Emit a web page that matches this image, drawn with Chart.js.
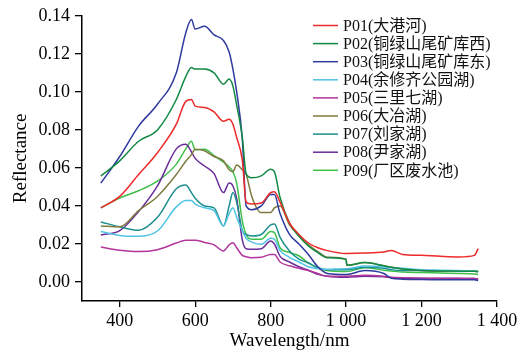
<!DOCTYPE html>
<html>
<head>
<meta charset="utf-8">
<script src="https://cdn.jsdelivr.net/npm/chart.js@4.4.0/dist/chart.umd.min.js"></script>
<style>
  html, body { margin: 0; padding: 0; background: #fff; }
  #wrap { width: 528px; height: 354px; }
</style>
</head>
<body>
<div id="wrap"><canvas id="specChart" width="528" height="354"></canvas></div>
<script>
// Wavelengths (nm) shared by every spectrum
const wavelengths = [350,400,450,500,550,575,590,600,625,650,675,690,700,710,725,735,750,775,800,810,825,850,875,900,925,950,1000,1002,1050,1100,1120,1150,1200,1250,1300,1340,1350];

// Reflectance of each sampling point
const p01 = [0.039,0.045,0.0565,0.068,0.083,0.095,0.096,0.0925,0.0918,0.0895,0.0845,0.0856,0.083,0.076,0.064,0.042,0.041,0.0415,0.047,0.0475,0.042,0.031,0.025,0.0205,0.018,0.0165,0.015,0.015,0.0152,0.0158,0.0165,0.0145,0.014,0.0135,0.0132,0.014,0.0175];
const p02 = [0.0558,0.0637,0.074,0.080,0.096,0.108,0.1128,0.112,0.112,0.110,0.104,0.1067,0.103,0.093,0.076,0.057,0.0548,0.0558,0.0593,0.058,0.0444,0.031,0.024,0.019,0.0155,0.0128,0.012,0.0088,0.0102,0.0085,0.0078,0.0068,0.006,0.0058,0.0057,0.0056,0.0055];
const p03 = [0.052,0.066,0.082,0.0935,0.110,0.131,0.138,0.133,0.1345,0.130,0.127,0.121,0.112,0.100,0.075,0.040,0.038,0.040,0.046,0.046,0.036,0.025,0.020,0.0145,0.008,0.0045,0.004,0.004,0.006,0.0045,0.002,0.0015,0.0013,0.0012,0.0012,0.0012,0.0008];
const p04 = [0.0265,0.0245,0.024,0.0268,0.0395,0.0428,0.0428,0.041,0.039,0.0375,0.0295,0.036,0.039,0.034,0.027,0.023,0.021,0.0198,0.023,0.0225,0.0165,0.013,0.0105,0.008,0.007,0.0067,0.007,0.007,0.0084,0.008,0.0075,0.0072,0.0065,0.0062,0.006,0.0058,0.0055];
const p05 = [0.0184,0.0167,0.016,0.017,0.0205,0.022,0.022,0.022,0.0208,0.0195,0.0163,0.0195,0.0207,0.018,0.014,0.0133,0.0128,0.013,0.0145,0.0145,0.0105,0.0085,0.0072,0.006,0.0045,0.003,0.003,0.003,0.0035,0.003,0.0025,0.0022,0.002,0.002,0.0019,0.0018,0.0017];
const p06 = [0.0295,0.029,0.0375,0.045,0.0565,0.0635,0.067,0.0698,0.069,0.066,0.0637,0.059,0.058,0.0615,0.059,0.0567,0.045,0.0365,0.0365,0.039,0.040,0.030,0.0245,0.0195,0.016,0.013,0.012,0.0088,0.0102,0.0085,0.0078,0.0068,0.006,0.0058,0.0057,0.0056,0.0055];
const p07 = [0.0316,0.029,0.0272,0.034,0.049,0.051,0.047,0.044,0.040,0.039,0.0295,0.040,0.047,0.042,0.027,0.025,0.0242,0.025,0.030,0.0305,0.0235,0.0163,0.012,0.010,0.0075,0.0065,0.0065,0.0065,0.0078,0.0072,0.0065,0.006,0.006,0.0058,0.0057,0.0056,0.0055];
const p08 = [0.0247,0.027,0.037,0.0505,0.070,0.0725,0.0685,0.065,0.061,0.057,0.047,0.052,0.0505,0.044,0.022,0.0175,0.0172,0.0175,0.0215,0.020,0.0135,0.0105,0.008,0.0062,0.004,0.003,0.0025,0.0025,0.003,0.0027,0.0022,0.002,0.0019,0.0018,0.0018,0.0018,0.0015];
const p09 = [0.039,0.0442,0.048,0.053,0.062,0.070,0.074,0.0695,0.0698,0.0665,0.063,0.0605,0.058,0.052,0.032,0.025,0.0225,0.0225,0.0265,0.026,0.018,0.0155,0.0138,0.010,0.0075,0.006,0.0055,0.0055,0.0075,0.0062,0.0058,0.0052,0.005,0.0047,0.0045,0.0042,0.004];

const seriesNames = ['P01(大港河)','P02(铜绿山尾矿库西)','P03(铜绿山尾矿库东)','P04(余修齐公园湖)','P05(三里七湖)','P06(大冶湖)','P07(刘家湖)','P08(尹家湖)','P09(厂区废水池)'];
const seriesValues = [p01, p02, p03, p04, p05, p06, p07, p08, p09];
const seriesColors = ['#ee2a2a','#138a44','#2e3a9e','#4fc3e3','#b3359b','#7d7b3f','#1e8f8f','#6b2d9a','#3fbf4a'];

// Axis ticks
const xTicks = [400, 600, 800, 1000, 1200, 1400];
const yTicks = [0, 0.02, 0.04, 0.06, 0.08, 0.10, 0.12, 0.14];

const serif = '"Liberation Serif", "Times New Roman", serif';

const datasets = seriesNames.map((name, i) => ({
  label: name,
  data: wavelengths.map((w, j) => ({ x: w, y: seriesValues[i][j] })),
  borderColor: seriesColors[i],
  backgroundColor: seriesColors[i],
  borderWidth: 1.5,
  pointRadius: 0,
  cubicInterpolationMode: 'monotone',
  fill: false
}));

// Legend drawn inside the plot, top right
const innerLegend = {
  id: 'innerLegend',
  afterDraw(chart) {
    const ctx = chart.ctx;
    ctx.save();
    ctx.font = '16px "Liberation Serif", "Noto Sans CJK SC", serif';
    ctx.textBaseline = 'middle';
    chart.data.datasets.forEach((ds, i) => {
      const y = 25.5 + i * 18.1;
      ctx.strokeStyle = ds.borderColor;
      ctx.lineWidth = 1.5;
      ctx.beginPath();
      ctx.moveTo(313, y);
      ctx.lineTo(338, y);
      ctx.stroke();
      ctx.fillStyle = '#111';
      ctx.fillText(ds.label, 343, y + 1);
    });
    ctx.restore();
  }
};

const ctx = document.getElementById('specChart').getContext('2d');
const specChart = new Chart(ctx, {
  type: 'line',
  data: { datasets },
  plugins: [innerLegend],
  options: {
    responsive: false,
    animation: false,
    layout: { padding: { left: 0, right: 31, top: 14, bottom: 0 } },
    plugins: {
      legend: { display: false },
      tooltip: { enabled: false }
    },
    scales: {
      x: {
        type: 'linear',
        min: 300,
        max: 1400,
        afterBuildTicks: (scale) => { scale.ticks = xTicks.map(v => ({ value: v })); },
        afterFit: (scale) => { scale.height = 53; },
        grid: { drawOnChartArea: false, drawTicks: true, tickLength: 6, color: '#000', lineWidth: 1.3 },
        border: { display: true, color: '#000', width: 1.5 },
        ticks: {
          color: '#000',
          font: { family: serif, size: 18 },
          padding: 3,
          maxRotation: 0,
          autoSkip: false,
          callback: (v) => String(v).replace(/\B(?=(\d{3})+(?!\d))/g, ' ')
        },
        title: {
          display: true,
          text: 'Wavelength/nm',
          color: '#000',
          font: { family: serif, size: 19 },
          padding: { top: 0, bottom: 2 }
        }
      },
      y: {
        min: -0.01,
        max: 0.14,
        afterBuildTicks: (scale) => { scale.ticks = yTicks.map(v => ({ value: v })); },
        afterFit: (scale) => { scale.width = 82; },
        grid: { drawOnChartArea: false, drawTicks: true, tickLength: 7, color: '#000', lineWidth: 1.3 },
        border: { display: true, color: '#000', width: 1.5 },
        ticks: {
          color: '#000',
          font: { family: serif, size: 18 },
          padding: 5,
          autoSkip: false,
          callback: (v) => v.toFixed(2)
        },
        title: {
          display: true,
          text: 'Reflectance',
          color: '#000',
          font: { family: serif, size: 19 },
          padding: { top: 10, bottom: 0 }
        }
      }
    }
  }
});
</script>
</body>
</html>
